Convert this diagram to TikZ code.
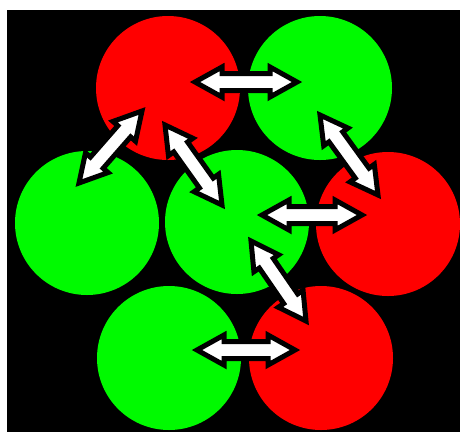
\documentclass[tikz,border=0pt]{standalone}
\usetikzlibrary{calc}
\definecolor{cred}{RGB}{255,0,0}
\definecolor{cgreen}{RGB}{0,250,0}
\tikzset{
  ball/.style={circle, minimum size=144pt, inner sep=0pt, draw=none},
  redball/.style={ball, fill=cred},
  greenball/.style={ball, fill=cgreen},
  fatarr/.style={draw=black, fill=white, line width=5pt, line join=miter},
}
\newcommand\fatarrow[2]{%
  \path (#1) coordinate (fa-s) (#2) coordinate (fa-e);
  \path ($(fa-s)!27pt!(fa-e)$) coordinate (fa-s1) ($(fa-e)!27pt!(fa-s)$) coordinate (fa-e1);
  \draw[fatarr] (fa-s) -- ($(fa-s1)!15pt!90:(fa-e)$) -- ($(fa-s1)!8.5pt!90:(fa-e)$)
    -- ($(fa-e1)!8.5pt!-90:(fa-s)$) -- ($(fa-e1)!15pt!-90:(fa-s)$) -- (fa-e)
    -- ($(fa-e1)!15pt!90:(fa-s)$) -- ($(fa-e1)!8.5pt!90:(fa-s)$)
    -- ($(fa-s1)!8.5pt!-90:(fa-e)$) -- ($(fa-s1)!15pt!-90:(fa-e)$) -- cycle;
}
\begin{document}
\begin{tikzpicture}[x=1pt,y=-1pt]
\useasboundingbox (0,0) rectangle (460,432);
\fill[white] (0,0) rectangle (460,432);
\fill[black] (7,10) rectangle (460,432);
% circles
\node[redball]   (R1) at (168,88) {};
\node[greenball] (G1) at (320,88) {};
\node[greenball] (G2) at (87,223) {};
\node[greenball] (G3) at (237,222) {};
\node[redball]   (R2) at (388,224) {};
\node[greenball] (G4) at (169,358) {};
\node[redball]   (R3) at (321,358) {};
% arrow ends
\coordinate (a1) at (195,82);  \coordinate (a2) at (297,82);
\coordinate (b1) at (142,111); \coordinate (b2) at (79,183);
\coordinate (c1) at (165,125); \coordinate (c2) at (222,205);
\coordinate (d1) at (320,115); \coordinate (d2) at (378,195);
\coordinate (e1) at (262,215); \coordinate (e2) at (362,215);
\coordinate (f1) at (251,241); \coordinate (f2) at (306,321);
\coordinate (g1) at (197,350); \coordinate (g2) at (295,350);
\fatarrow{a1}{a2}
\fatarrow{b1}{b2}
\fatarrow{c1}{c2}
\fatarrow{d1}{d2}
\fatarrow{e1}{e2}
\fatarrow{f1}{f2}
\fatarrow{g1}{g2}
\end{tikzpicture}
\end{document}
